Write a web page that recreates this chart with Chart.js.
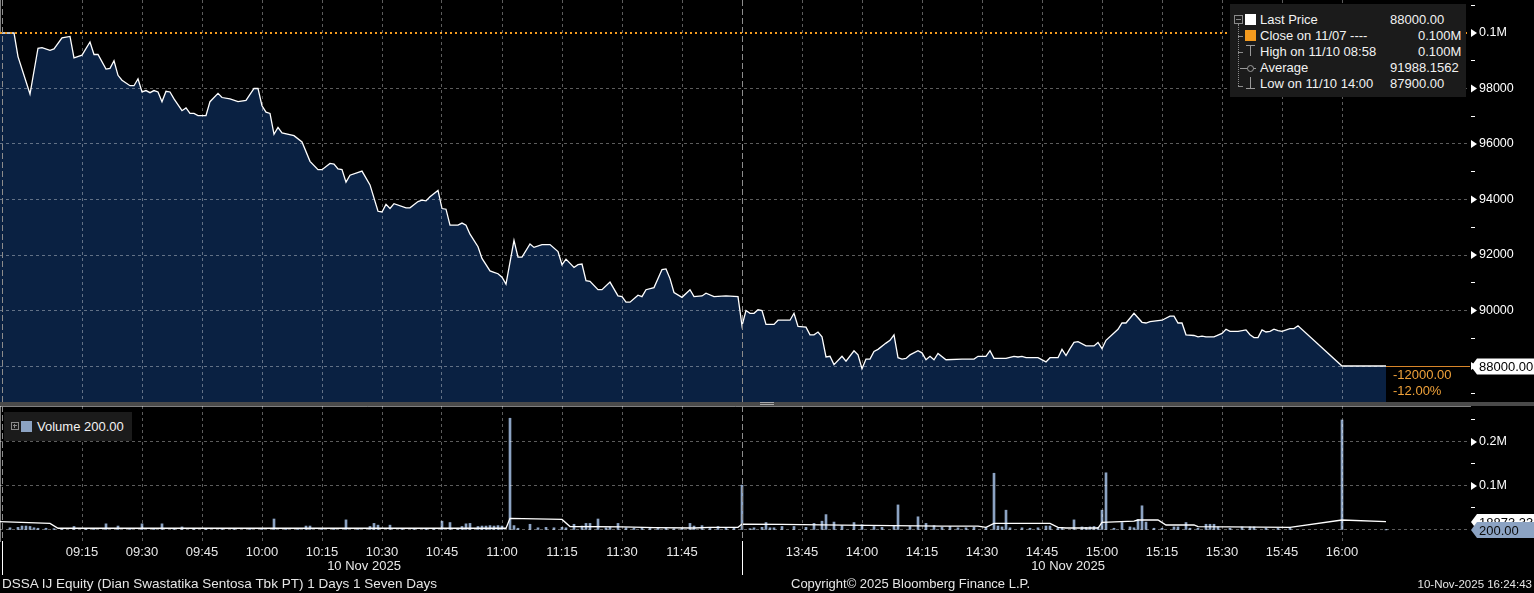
<!DOCTYPE html>
<html>
<head>
<meta charset="utf-8">
<script src="https://cdn.jsdelivr.net/npm/chart.js"></script>
<style>
  body { margin:0; background:#000; overflow:hidden; }
  #wrap { position:relative; width:1534px; height:593px; background:#000; }
  canvas { position:absolute; left:0; }
  .t { position:absolute; font:12px 'Liberation Sans', Arial, sans-serif; color:#e6e6e6; white-space:nowrap; line-height:14px; }
  .lg { position:absolute; font:13px 'Liberation Sans', Arial, sans-serif; color:#f2f2f2; white-space:nowrap; line-height:14px; }
  .box { position:absolute; background:#1b1b1b; }
  .ic { position:absolute; }
</style>
</head>
<body>
<div id="wrap">
  <canvas id="price" width="1534" height="402" style="top:0"></canvas>
  <div class="box" style="left:0;top:402px;width:1534px;height:4px;background:#4a4a4a"></div>
  <div class="ic" style="left:760px;top:402px;width:14px;height:1px;background:#aaa"></div>
  <div class="ic" style="left:760px;top:404px;width:14px;height:1px;background:#aaa"></div>
  <canvas id="vol" width="1534" height="187" style="top:406px"></canvas>

  <!-- price legend -->
  <div class="box" style="left:1230px;top:4px;width:236px;height:93px"></div>
  <div class="ic" style="left:1234px;top:15px;width:7px;height:7px;border:1px solid #8a8a8a"></div>
  <div class="ic" style="left:1236px;top:19px;width:5px;height:1px;background:#8a8a8a"></div>
  <div class="ic" style="left:1238px;top:24px;width:0;height:62px;border-left:1px dotted #8a8a8a"></div>
  <div class="ic" style="left:1238px;top:36px;width:5px;height:1px;background:#8a8a8a"></div>
  <div class="ic" style="left:1238px;top:52px;width:5px;height:1px;background:#8a8a8a"></div>
  <div class="ic" style="left:1238px;top:86px;width:5px;height:1px;background:#8a8a8a"></div>
  <div class="ic" style="left:1245px;top:14px;width:11px;height:11px;background:#fff"></div>
  <div class="ic" style="left:1245px;top:30px;width:11px;height:11px;background:#f39a1e"></div>
  <div class="ic" style="left:1246px;top:45px;width:9px;height:1px;background:#9a9a9a"></div>
  <div class="ic" style="left:1250px;top:45px;width:1px;height:11px;background:#9a9a9a"></div>
  <div class="ic" style="left:1240px;top:68px;width:16px;height:1px;background:#9a9a9a"></div>
  <div class="ic" style="left:1247px;top:65px;width:5px;height:5px;border:1px solid #9a9a9a;border-radius:4px;background:#1b1b1b"></div>
  <div class="ic" style="left:1250px;top:77px;width:1px;height:11px;background:#9a9a9a"></div>
  <div class="ic" style="left:1246px;top:88px;width:9px;height:1px;background:#9a9a9a"></div>
  <div class="lg" style="left:1260px;top:13px">Last Price</div>
  <div class="lg" style="left:1390px;top:13px">88000.00</div>
  <div class="lg" style="left:1260px;top:29px">Close on 11/07 ----</div>
  <div class="lg" style="left:1418px;top:29px">0.100M</div>
  <div class="lg" style="left:1260px;top:45px">High on 11/10 08:58</div>
  <div class="lg" style="left:1418px;top:45px">0.100M</div>
  <div class="lg" style="left:1260px;top:61px">Average</div>
  <div class="lg" style="left:1390px;top:61px">91988.1562</div>
  <div class="lg" style="left:1260px;top:77px">Low on 11/10 14:00</div>
  <div class="lg" style="left:1390px;top:77px">87900.00</div>

  <!-- volume legend -->
  <div class="box" style="left:4px;top:412px;width:128px;height:29px"></div>
  <div class="ic" style="left:11px;top:422px;width:6px;height:6px;border:1px solid #8a8a8a"></div>
  <div class="ic" style="left:13px;top:425px;width:4px;height:1px;background:#8a8a8a"></div>
  <div class="ic" style="left:14px;top:424px;width:1px;height:4px;background:#8a8a8a"></div>
  <div class="ic" style="left:21px;top:421px;width:11px;height:11px;background:#8ca3c3"></div>
  <div class="lg" style="left:37px;top:420px">Volume 200.00</div>

  <!-- footer -->
  <div class="t" style="left:2px;top:577px;font-size:13.5px">DSSA IJ Equity (Dian Swastatika Sentosa Tbk PT) 1 Days 1 Seven Days</div>
  <div class="t" style="left:791px;top:577px;font-size:13px">Copyright© 2025 Bloomberg Finance L.P.</div>
  <div class="t" style="right:2px;top:577px;font-size:11.5px">10-Nov-2025 16:24:43</div>
</div>

<script>
// ---- data ----
var prevClose = 100000;
var dateLabel = '10 Nov 2025';

var priceTimes = [
 '08:54','08:58','08:59','09:02','09:04','09:05','09:07','09:08','09:10','09:12','09:13','09:15','09:17','09:18','09:19',
 '09:21','09:22','09:23','09:24','09:25','09:27','09:28','09:29','09:30','09:31','09:32','09:33','09:34','09:35','09:36',
 '09:37','09:38','09:40','09:41','09:42','09:43','09:44','09:46','09:47','09:49','09:50','09:52','09:54','09:56','09:58',
 '09:59','10:00','10:01','10:02','10:03','10:04','10:05','10:08','10:10','10:12','10:14','10:15','10:17','10:18','10:19',
 '10:20','10:21','10:22','10:25','10:27','10:29','10:30','10:31','10:32','10:33','10:36','10:37','10:39','10:40','10:41',
 '10:42','10:44','10:45','10:46','10:47','10:49','10:50','10:51','10:52','10:54','10:55','10:57','10:58','10:59','11:00',
 '11:01','11:03','11:04','11:05','11:07','11:08','11:10','11:12','11:14','11:15','11:16','11:18','11:19','11:20','11:21',
 '11:22','11:24','11:25','11:27','11:29','11:30','11:31','11:32','11:34','11:35','11:36','11:38','11:40','11:41','11:42',
 '11:43','11:45','11:47','11:48','11:50','11:51','11:53','11:56','11:59',
 '13:30','13:31','13:32','13:33','13:34','13:35','13:36','13:38','13:39','13:42','13:43','13:44','13:46','13:47','13:48',
 '13:49','13:50','13:51','13:52','13:53','13:55','13:56','13:58','13:59','14:00','14:01','14:02','14:03','14:04','14:06',
 '14:07','14:08','14:09','14:10','14:11','14:12','14:14','14:15','14:16','14:17','14:18','14:19','14:21','14:25','14:28',
 '14:29','14:31','14:32','14:33','14:36','14:38','14:39','14:40','14:41','14:44','14:46','14:47','14:49','14:50','14:51',
 '14:52','14:53','14:54','14:56','14:58','14:59','15:00','15:01','15:04','15:05','15:06','15:08','15:10','15:11','15:12',
 '15:15','15:17','15:18','15:19','15:20','15:21','15:23','15:24','15:25','15:26','15:28','15:30','15:31','15:32','15:34',
 '15:36','15:37','15:38','15:39','15:40','15:41','15:42','15:43','15:44','15:45','15:47','15:48','15:49','16:00','16:11'
];
var priceValues = [
 100000,100000,99150,97800,99450,99475,99375,99425,99825,99875,99100,99200,99675,99225,99225,
 98700,98725,99000,98475,98300,98100,98100,98350,97875,97925,97850,97925,97875,97525,97900,
 97875,97625,97200,97300,97100,97100,97025,97025,97525,97825,97675,97625,97525,97575,98000,
 98000,97375,97150,97100,96350,96600,96400,96300,96075,95375,95075,95075,95300,95275,95100,
 95075,94625,94875,95025,94525,93575,93550,93825,93675,93850,93700,93700,93925,93975,93950,
 94100,94325,93675,93650,93075,93075,93150,93075,92750,92300,91875,91425,91375,91325,91200,
 90950,92525,91925,91925,92400,92275,92375,92375,92125,91650,91850,91550,91650,91675,91075,
 91050,90750,90750,91025,90525,90500,90300,90300,90550,90500,90750,90825,91475,91500,91150,
 90650,90475,90750,90500,90525,90625,90500,90525,90500,
 89450,90000,89900,89900,90025,90000,89500,89500,89650,89650,89900,89425,89400,89125,89125,
 89225,89050,88325,88350,88050,88350,88175,88550,88400,87900,88250,88250,88525,88600,88825,
 88925,89125,88300,88250,88275,88400,88550,88475,88225,88350,88225,88450,88225,88250,88250,
 88350,88350,88550,88275,88275,88350,88325,88350,88300,88300,88150,88300,88300,88600,88375,
 88625,88850,88875,88725,88725,88850,88625,88925,89325,89550,89550,89900,89575,89550,89600,
 89650,89800,89800,89550,89550,89125,89100,89050,89075,89050,89050,89175,89325,89250,89250,
 89300,89125,89025,89025,89300,89225,89250,89325,89275,89250,89350,89350,89450,88000,88000
];

var volTimes = [
 '08:57','08:59','09:00','09:01','09:02','09:03','09:04','09:06','09:08','09:10','09:13','09:16','09:18','09:21','09:24',
 '09:27','09:30','09:33','09:35','09:38','09:40','09:43','09:46','09:50','09:53','09:57','10:00','10:03','10:06','10:09',
 '10:11','10:12','10:15','10:18','10:21','10:24','10:27','10:28','10:29','10:32','10:35','10:38','10:41','10:43','10:45',
 '10:47','10:49','10:50','10:51','10:52','10:54','10:55','10:56','10:57','10:58','10:59','11:00','11:02','11:03','11:04',
 '11:07','11:09','11:11','11:13','11:15','11:16','11:18','11:20','11:21','11:22','11:24','11:26','11:27','11:29','11:31',
 '11:33','11:35','11:37','11:39','11:41','11:43','11:45','11:47','11:48','11:50','11:52','11:54','11:56','11:58',
 '13:30','13:32','13:33','13:35','13:36','13:37','13:38','13:40','13:43','13:46','13:48','13:50','13:51','13:53','13:55',
 '13:58','14:00','14:03','14:05','14:08','14:09','14:12','14:14','14:16','14:18','14:20','14:22','14:24','14:26','14:28',
 '14:31','14:33','14:34','14:35','14:36','14:37','14:40','14:42','14:44','14:46','14:47','14:49','14:50','14:53','14:55',
 '14:56','14:57','14:58','14:59','15:00','15:01','15:03','15:05','15:07','15:08','15:09','15:10','15:11','15:13','15:15',
 '15:18','15:19','15:21','15:22','15:24','15:26','15:27','15:28','15:29','15:32','15:35','15:37','15:38','15:41','15:44',
 '15:47','16:00','16:11'
];
var volValues = [
 5000,6000,9000,9000,8000,5000,4000,4000,3000,3000,8000,2000,3000,14000,9000,
 3000,14000,2000,14000,3000,7000,2000,2000,3000,2000,3000,2000,25000,2000,3000,
 9000,9000,3000,2000,23000,3000,8000,15000,11000,11000,3000,2000,3000,2000,20000,
 17000,4000,8000,14000,15000,8000,9000,9000,10000,9000,10000,9000,254000,10000,4000,
 13000,5000,6000,5000,6000,5000,13000,9000,15000,15000,25000,5000,6000,15000,5000,
 4000,5000,4000,5000,4000,3000,4000,15000,9000,10000,5000,8000,5000,5000,
 102000,3000,5000,6000,17000,5000,5000,8000,8000,6000,15000,20000,35000,18000,10000,
 17000,12000,8000,6000,10000,57000,8000,30000,15000,10000,6000,8000,5000,5000,6000,
 5000,129000,9000,7000,45000,5000,5000,4000,5000,9000,9000,4000,4000,23000,7000,
 6000,7000,8000,6000,45000,130000,4000,17000,7000,5000,24000,55000,18000,4000,4000,
 7000,7000,17000,4000,4000,13000,13000,13000,7000,4000,7000,7000,7000,4000,4000,
 4000,250000,200
];

var avgTimes = ['08:54','09:07','09:09','11:01','11:02','11:15','11:17','11:30','11:38','11:48','11:52','11:59',
 '13:30','13:40','13:55','14:20','14:29','14:31','14:33','14:47','14:49','14:51','14:59','15:00','15:08','15:09',
 '15:14','15:16','15:23','15:24','15:47','16:00','16:11'];
var avgValues = [19000,15000,4000,4000,26500,24000,8000,7000,5500,4500,6000,6000,
 13500,13000,11000,9000,9000,6000,15000,15000,6000,4500,4500,17500,20000,22700,
 22700,11400,11400,7500,6000,22700,18873.33];

// minutes from 09:00 with the lunch break taken out
function toMin(t){
  var p = t.split(':'), a = Number(p[0])*60 + Number(p[1]);
  return a <= 720 ? a - 540 : a - 630;
}
function fmtMin(v){
  var a = v <= 180 ? v + 540 : v + 630;
  return ('0'+Math.floor(a/60)).slice(-2) + ':' + ('0'+(a%60)).slice(-2);
}
function pts(times, vals){
  var out = [];
  for (var i=0;i<times.length;i++) out.push({x: toMin(times[i]), y: vals[i]});
  return out;
}

var xMin = -5.5, xMax = 362;
var sessionMarks = [toMin('08:55'), toMin('13:30')];
var dateCenters = [85.5, 261.5];
var xTicks = [];
for (var v=15; v<=330; v+=15) if (v !== 180) xTicks.push(v);

var FONT = "'Liberation Sans', Arial, sans-serif";
Chart.defaults.font.family = FONT;
var gridCol = 'rgba(255,255,255,0.36)';

function fmtAxis(v){ return v >= 100000 ? (v/1e6).toFixed(1) + 'M' : String(v); }

function tri(ctx, x, y){
  ctx.fillStyle = '#fff';
  ctx.beginPath(); ctx.moveTo(x, y-4); ctx.lineTo(x+6, y); ctx.lineTo(x, y+4); ctx.closePath(); ctx.fill();
}
function tagBox(ctx, x0, x1, yc, text, bg, fg){
  ctx.fillStyle = bg;
  ctx.beginPath();
  ctx.moveTo(x0+1, yc); ctx.lineTo(x0+7, yc-8); ctx.lineTo(x1, yc-8); ctx.lineTo(x1, yc+8); ctx.lineTo(x0+7, yc+8);
  ctx.closePath(); ctx.fill();
  ctx.fillStyle = fg; ctx.font = '13px ' + FONT; ctx.textAlign = 'left'; ctx.textBaseline = 'middle';
  ctx.fillText(text, x0+9, yc+1);
}
function sessionLines(chart, below){
  var ctx = chart.ctx, a = chart.chartArea, x = chart.scales.x;
  ctx.save();
  sessionMarks.forEach(function(v){
    var px = Math.round(x.getPixelForValue(v)) + 0.5;
    ctx.strokeStyle = '#8c8c8c'; ctx.lineWidth = 1; ctx.setLineDash([6,3]);
    ctx.beginPath(); ctx.moveTo(px, a.top); ctx.lineTo(px, a.bottom); ctx.stroke();
    if (below) {
      ctx.setLineDash([]); ctx.strokeStyle = '#fff';
      ctx.beginPath(); ctx.moveTo(px, a.bottom); ctx.lineTo(px, a.bottom + 34); ctx.stroke();
    }
  });
  ctx.restore();
}

// ---- price panel ----
var lastPrice = priceValues[priceValues.length-1];
var priceDecor = {
  id: 'priceDecor',
  afterDraw: function(chart){
    var ctx = chart.ctx, a = chart.chartArea, x = chart.scales.x, y = chart.scales.y;
    sessionLines(chart, false);
    ctx.save();
    y.ticks.forEach(function(t){ if (t.label) tri(ctx, a.right + 1, y.getPixelForValue(t.value)); });
    var lx = x.getPixelForValue(toMin(priceTimes[priceTimes.length-1]));
    var ly = Math.round(y.getPixelForValue(lastPrice)) + 0.5;
    ctx.strokeStyle = '#d9862a'; ctx.lineWidth = 1;
    ctx.beginPath(); ctx.moveTo(lx, ly); ctx.lineTo(a.right, ly); ctx.stroke();
    var chg = lastPrice - prevClose;
    ctx.fillStyle = '#f0a23a'; ctx.font = '13px ' + FONT; ctx.textBaseline = 'middle'; ctx.textAlign = 'left';
    ctx.fillText(chg.toFixed(2), lx + 7, ly + 9);
    ctx.fillText((chg/prevClose*100).toFixed(2) + '%', lx + 7, ly + 25);
    tagBox(ctx, a.right, chart.width, ly, lastPrice.toFixed(2), '#fff', '#000');
    ctx.restore();
  }
};

new Chart(document.getElementById('price'), {
  type: 'line',
  data: { datasets: [
    { data: [{x:xMin, y:prevClose}, {x:xMax, y:prevClose}], borderColor:'#f39a1e', borderWidth:2,
      borderDash:[2,3], pointRadius:0, fill:false },
    { data: pts(priceTimes, priceValues), borderColor:'#ffffff', borderWidth:1.3, pointRadius:0,
      tension:0, fill:'start', backgroundColor:'#0a2142' }
  ]},
  options: {
    responsive:false, animation:false, devicePixelRatio:1,
    layout:{ padding:0 },
    plugins:{ legend:{display:false}, tooltip:{enabled:false} },
    scales: {
      x: { type:'linear', min:xMin, max:xMax,
        afterBuildTicks: function(s){ s.ticks = xTicks.map(function(v){ return {value:v}; }); },
        ticks:{ display:false },
        grid:{ color:gridCol, drawTicks:false, z:1 },
        border:{ display:false, dash:[3,3] } },
      y: { position:'right', min:86703, max:101189,
        afterBuildTicks: function(s){ var t=[]; for (var v=87000; v<=101000; v+=1000) t.push({value:v}); s.ticks=t; },
        afterFit: function(s){ s.width = 64; s.paddingTop = 0; s.paddingBottom = 0; },
        ticks:{ color:'#fff', font:{size:12.5}, padding:4, autoSkip:false,
          callback: function(v){ return v % 2000 === 0 ? fmtAxis(v) : ''; } },
        grid:{ z:1, tickLength:5,
          color: function(c){ var v=c.tick && c.tick.value; return (v % 2000 === 0 && v !== prevClose) ? gridCol : 'rgba(0,0,0,0)'; },
          tickColor: function(c){ return c.tick && c.tick.value % 2000 === 0 ? 'rgba(0,0,0,0)' : '#fff'; } },
        border:{ display:true, color:'#fff', width:1, dash:[3,3] } }
    }
  },
  plugins:[priceDecor]
});

// ---- volume panel ----
var lastVol = volValues[volValues.length-1];
var lastAvg = avgValues[avgValues.length-1];
var volDecor = {
  id: 'volDecor',
  afterDraw: function(chart){
    var ctx = chart.ctx, a = chart.chartArea, x = chart.scales.x, y = chart.scales.y;
    sessionLines(chart, true);
    ctx.save();
    y.ticks.forEach(function(t){ if (t.label) tri(ctx, a.right + 1, y.getPixelForValue(t.value)); });
    ctx.fillStyle = '#e8e8e8'; ctx.font = '13px ' + FONT; ctx.textAlign = 'center'; ctx.textBaseline = 'middle';
    dateCenters.forEach(function(v){ ctx.fillText(dateLabel, x.getPixelForValue(v), a.bottom + 25); });
    var vy = Math.round(y.getPixelForValue(lastVol));
    // the average tag sits just above the volume tag and is mostly covered by it
    tagBox(ctx, a.right, chart.width, Math.min(Math.round(y.getPixelForValue(lastAvg)), vy - 5), lastAvg.toFixed(2), '#fff', '#000');
    tagBox(ctx, a.right, chart.width, vy, lastVol.toFixed(2), '#8ca3c3', '#0b0b0b');
    ctx.restore();
  }
};

new Chart(document.getElementById('vol'), {
  type: 'bar',
  data: { datasets: [
    { type:'line', data: pts(avgTimes, avgValues), borderColor:'#ffffff', borderWidth:1.3, pointRadius:0, tension:0, fill:false },
    { type:'bar', data: pts(volTimes, volValues), backgroundColor:'#8ca3c3', barThickness:2, borderWidth:0 }
  ]},
  options: {
    responsive:false, animation:false, devicePixelRatio:1,
    layout:{ padding:0 },
    plugins:{ legend:{display:false}, tooltip:{enabled:false} },
    scales: {
      x: { type:'linear', min:xMin, max:xMax, offset:false,
        afterBuildTicks: function(s){ s.ticks = xTicks.map(function(v){ return {value:v}; }); },
        afterFit: function(s){ s.height = 52; },
        ticks:{ color:'#e8e8e8', font:{size:13}, padding:4, autoSkip:false, maxRotation:0,
          callback: function(v){ return fmtMin(v); } },
        grid:{ color:gridCol, drawTicks:false, z:1, offset:false },
        border:{ display:true, color:'#fff', width:1, dash:[3,3] } },
      y: { position:'right', min:-25000, max:281818,
        afterBuildTicks: function(s){ var t=[]; for (var v=0; v<=250000; v+=50000) t.push({value:v}); s.ticks=t; },
        afterFit: function(s){ s.width = 64; s.paddingTop = 0; s.paddingBottom = 0; },
        ticks:{ color:'#fff', font:{size:12.5}, padding:4, autoSkip:false,
          callback: function(v){ return (v > 0 && v % 100000 === 0) ? fmtAxis(v) : ''; } },
        grid:{ z:1, tickLength:5,
          color: function(c){ return c.tick && c.tick.value % 100000 === 0 ? gridCol : 'rgba(0,0,0,0)'; },
          tickColor: function(c){ return c.tick && c.tick.value % 100000 === 0 ? 'rgba(0,0,0,0)' : '#fff'; } },
        border:{ display:true, color:'#fff', width:1, dash:[3,3] } }
    }
  },
  plugins:[volDecor]
});
</script>
</body>
</html>
